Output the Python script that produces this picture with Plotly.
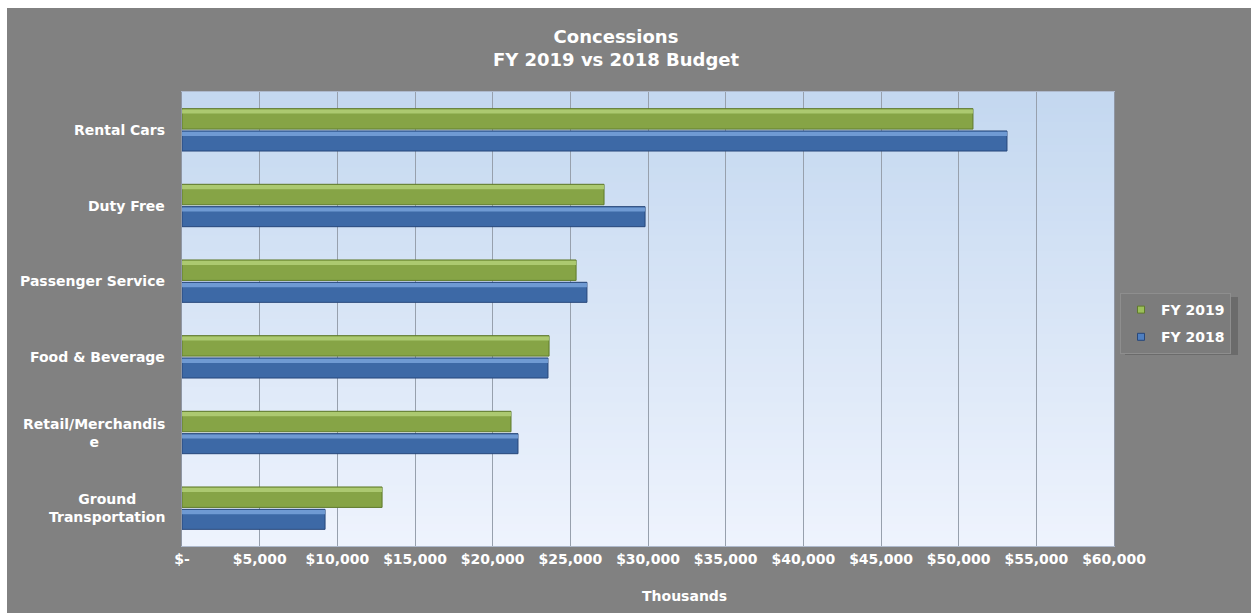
import plotly.graph_objects as go

# Concession revenue, in thousands of dollars
categories = ["Ground<br>Transportation", "Retail/Merchandis<br>e", "Food & Beverage",
              "Passenger Service", "Duty Free", "Rental Cars"]
fy2019 = [12880, 21180, 23630, 25370, 27170, 50920]
fy2018 = [9210, 21630, 23560, 26070, 29810, 53110]

tick_vals = [0, 5000, 10000, 15000, 20000, 25000, 30000, 35000, 40000, 45000, 50000, 55000, 60000]
tick_text = ["$-", "$5,000", "$10,000", "$15,000", "$20,000", "$25,000", "$30,000",
             "$35,000", "$40,000", "$45,000", "$50,000", "$55,000", "$60,000"]

W, H = 1251, 613
ML, MR, MT, MB = 182, 137, 92, 67
PW, PH = W - ML - MR, H - MT - MB

FONT = "Verdana, DejaVu Sans, sans-serif"
GREEN, GREEN_HI, GREEN_LO = "#86a446", "#b3d078", "#5f7a2c"
BLUE, BLUE_HI, BLUE_LO = "#3d69a6", "#78a3da", "#27477a"


def px_x(px):
    return (px - ML) / PW


def px_y(py):
    return (H - MB - py) / PH


fig = go.Figure()

# main bars
fig.add_trace(go.Bar(y=categories, x=fy2018, orientation="h", name="FY 2018",
                     offset=-0.28, width=0.265, showlegend=False,
                     marker=dict(color=BLUE, line=dict(color=BLUE_LO, width=1))))
fig.add_trace(go.Bar(y=categories, x=fy2019, orientation="h", name="FY 2019",
                     offset=0.01, width=0.27, showlegend=False,
                     marker=dict(color=GREEN, line=dict(color=GREEN_LO, width=1))))
# bevel highlight along the top edge of each bar
fig.add_trace(go.Bar(y=categories, x=fy2018, orientation="h", offset=-0.08, width=0.055,
                     showlegend=False, hoverinfo="skip",
                     marker=dict(color=BLUE_HI, opacity=0.85, line=dict(width=0))))
fig.add_trace(go.Bar(y=categories, x=fy2019, orientation="h", offset=0.215, width=0.055,
                     showlegend=False, hoverinfo="skip",
                     marker=dict(color=GREEN_HI, opacity=0.85, line=dict(width=0))))

# legend entries with small square swatches
fig.add_trace(go.Scatter(x=[None], y=[None], mode="markers", name="FY 2019",
                         legendgroup="a",
                         marker=dict(symbol="square", size=7, color="#9cc05a",
                                     line=dict(color=GREEN_LO, width=1))))
fig.add_trace(go.Scatter(x=[None], y=[None], mode="markers", name="FY 2018",
                         legendgroup="b",
                         marker=dict(symbol="square", size=7, color="#4f7fc0",
                                     line=dict(color=BLUE_LO, width=1))))

shapes = []
# vertical gradient of the plot area
top_rgb = (0xc4, 0xd8, 0xf0)
bot_rgb = (0xee, 0xf3, 0xfd)
N = 60
for i in range(N):
    t = i / (N - 1)
    r, g, b = (round(bot_rgb[k] + (top_rgb[k] - bot_rgb[k]) * t) for k in range(3))
    shapes.append(dict(type="rect", xref="paper", yref="paper", x0=0, x1=1,
                       y0=i / N, y1=(i + 1) / N + 0.002, layer="below",
                       line=dict(width=0), fillcolor=f"rgb({r},{g},{b})"))
# white page margin at the top and left
shapes.append(dict(type="rect", xref="paper", yref="paper", x0=-0.3, x1=1.3,
                   y0=px_y(8), y1=1.4, layer="below", line=dict(width=0), fillcolor="white"))
shapes.append(dict(type="rect", xref="paper", yref="paper", x0=-0.3, x1=px_x(7),
                   y0=-0.3, y1=1.4, layer="below", line=dict(width=0), fillcolor="white"))
# legend drop shadow
shapes.append(dict(type="rect", xref="paper", yref="paper", x0=px_x(1125), x1=px_x(1238),
                   y0=px_y(355), y1=px_y(297), layer="below", line=dict(width=0),
                   fillcolor="#6b6b6b"))

annotations = []
for c in categories:
    annotations.append(dict(xref="paper", yref="y", x=px_x(167), y=c, text=c,
                            xanchor="right", yanchor="middle", align="center",
                            showarrow=False,
                            font=dict(family=FONT, size=14, color="white", weight="bold")))
annotations.append(dict(xref="paper", yref="paper", x=px_x(684), y=px_y(596),
                        text="Thousands", showarrow=False, xanchor="center",
                        yanchor="middle",
                        font=dict(family=FONT, size=14, color="white", weight="bold")))

fig.update_layout(
    width=W, height=H,
    margin=dict(l=ML, r=MR, t=MT, b=MB),
    paper_bgcolor="#818181",
    plot_bgcolor="rgba(0,0,0,0)",
    barmode="overlay",
    title=dict(text="Concessions<br>FY 2019 vs 2018 Budget",
               x=616 / W, xanchor="center", y=1 - 43 / H, yanchor="middle",
               font=dict(family=FONT, size=18, color="white", weight="bold")),
    xaxis=dict(range=[0, 60000], tickvals=tick_vals, ticktext=tick_text,
               showgrid=True, gridcolor="#97a0ad", gridwidth=1, zeroline=False,
               showline=True, linecolor="#aeb9cc", mirror=True,
               tickfont=dict(family=FONT, size=14, color="white", weight="bold"),
               fixedrange=True),
    yaxis=dict(type="category", categoryorder="array", categoryarray=categories,
               showticklabels=False, showgrid=False, zeroline=False,
               showline=True, linecolor="#8f96a3", mirror=True,
               range=[-0.5, len(categories) - 0.5], fixedrange=True),
    legend=dict(x=px_x(1120), y=px_y(293), xanchor="left", yanchor="top",
                bgcolor="#7c7c7c", bordercolor="#8e8e8e", borderwidth=1,
                traceorder="grouped", tracegroupgap=6,
                font=dict(family=FONT, size=14, color="white", weight="bold")),
    shapes=shapes,
    annotations=annotations,
    showlegend=True,
)

fig.write_html("out.html")
